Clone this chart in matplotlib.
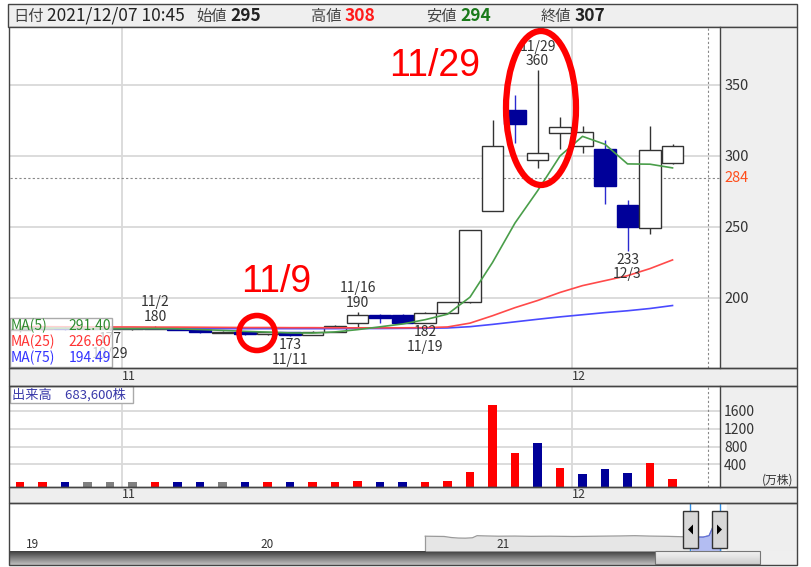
import matplotlib
matplotlib.use("Agg")
import matplotlib.pyplot as plt
from matplotlib.patches import Rectangle, Ellipse, Polygon
import numpy as np

plt.rcParams['font.family'] = ['Noto Sans CJK JP', 'DejaVu Sans']

# ---------------- data ----------------
dates = ['10/25', '10/26', '10/27', '10/28', '10/29', '11/1', '11/2', '11/4', '11/5', '11/8',
         '11/9', '11/10', '11/11', '11/12', '11/15', '11/16', '11/17', '11/18', '11/19', '11/22',
         '11/24', '11/25', '11/26', '11/29', '11/30', '12/1', '12/2', '12/3', '12/6', '12/7']
opens = [177, 178, 179, 178, 178, 178, 178, 179, 177.5, 175.5,
         176, 174.5, 176, 174, 176, 182, 188, 188, 182, 189,
         197, 261, 332, 297, 316, 306.5, 305, 265, 249, 295]
highs = [179, 179.5, 180, 179, 179, 179, 180, 179, 178, 176.5,
         176.5, 176, 176, 176.5, 180.5, 190, 188.5, 188.5, 190, 197,
         248, 325, 343, 360, 327, 321, 311, 269, 321, 308]
lows = [176, 177, 177, 177, 177, 177.5, 178, 177, 175, 175,
        174, 174, 173, 173.5, 176, 179, 182.5, 182, 182, 189,
        196.5, 261, 309, 291, 305, 302, 266, 233, 245, 294]
closes = [178, 179, 178, 178, 178, 178, 179, 177.5, 175.5, 175.5,
          174.5, 175.5, 174, 176, 180, 188, 185.5, 182.5, 189, 197,
          248, 307, 322, 302, 320, 317, 279, 250, 304, 307]
# volume in 万株, direction vs previous close
volumes = [15, 15, 15, 12, 12, 12, 15, 15, 15, 12,
           15, 15, 15, 15, 18, 40, 15, 15, 18, 40,
           238, 1734, 650, 875, 314, 180, 292, 202, 426, 68.36]
vol_dir = ['up', 'up', 'down', 'flat', 'flat', 'flat', 'up', 'down', 'down', 'flat',
           'down', 'up', 'down', 'up', 'up', 'up', 'down', 'down', 'up', 'up',
           'up', 'up', 'up', 'down', 'up', 'down', 'down', 'down', 'up', 'up']
ma5 = [178.5, 178.6, 178.5, 178.3, 178.2, 178.2, 178.3, 178.1, 177.6, 177.0,
       176.3, 175.8, 175.2, 175.1, 175.9, 177.5, 179.5, 181.5, 184.5, 188.4,
       200.4, 224.8, 252.6, 275.2, 299.8, 313.6, 308.0, 294.2, 294.0, 291.40]
ma25 = [179.6, 179.6, 179.5, 179.5, 179.4, 179.4, 179.3, 179.3, 179.2, 179.1,
        179.0, 179.0, 178.9, 178.9, 178.8, 178.8, 178.8, 178.8, 178.9, 179.4,
        182.1, 187.3, 193.0, 198.0, 203.7, 208.5, 212.0, 215.5, 220.5, 226.60]
ma75 = [178.4, 178.4, 178.4, 178.3, 178.3, 178.3, 178.3, 178.3, 178.3, 178.2,
        178.2, 178.2, 178.2, 178.2, 178.2, 178.3, 178.3, 178.4, 178.5, 178.7,
        179.6, 181.2, 183.0, 184.8, 186.5, 188.0, 189.5, 190.8, 192.4, 194.49]
price_ticks = [200, 250, 300, 350]
ref_price = 284
vol_ticks = [400, 800, 1200, 1600]
month_labels = ['11', '12']
month_index = [5, 25]
vol_total_label = '683,600株'
header = [('日付', '2021/12/07 10:45', '#222222'), ('始値', '295', '#222222'),
          ('高値', '308', '#ff1a1a'), ('安値', '294', '#1a7a1a'), ('終値', '307', '#222222')]
# labelled points: (index, kind, price text, date text)
marks = [(23, 'high', '360', '11/29'), (27, 'low', '233', '12/3'), (15, 'high', '190', '11/16'),
         (18, 'low', '182', '11/19'), (6, 'high', '180', '11/2'), (12, 'low', '173', '11/11'),
         (4, 'low', '177', '10/29')]
nav_years = ['19', '20', '21']
nav_t = [2020.67, 2020.71, 2020.75, 2020.78, 2020.81, 2020.84, 2020.87, 2020.89, 2020.93, 2020.98,
         2021.05, 2021.12, 2021.20, 2021.30, 2021.40, 2021.50, 2021.56, 2021.62, 2021.70, 2021.76,
         2021.80, 2021.85, 2021.875, 2021.89, 2021.90, 2021.91, 2021.925]
nav_p = [186, 185, 184, 176, 172, 171, 174, 190, 188, 186,
         187, 185, 186, 184, 186, 188, 190, 187, 185, 182,
         180, 179, 190, 250, 330, 320, 300]

# ---------------- layout helpers ----------------
W, H = 812, 567
fig = plt.figure(figsize=(W / 100, H / 100), dpi=100)
fig.patch.set_facecolor('white')


def px_axes(x0, y0, x1, y1, z=1):
    a = fig.add_axes([x0 / W, 1 - y1 / H, (x1 - x0) / W, (y1 - y0) / H])
    a.set_zorder(z)
    return a


bg = px_axes(0, 0, W, H, 0)
bg.set_xlim(0, W); bg.set_ylim(H, 0); bg.axis('off')
fg = px_axes(0, 0, W, H, 10)
fg.set_xlim(0, W); fg.set_ylim(H, 0); fg.axis('off'); fg.patch.set_alpha(0)

GRAY_BG = '#eeeeee'
BORDER = '#444444'
GRID = '#d9d9d9'
TXT = '#333333'

# header
bg.add_patch(Rectangle((8, 4), 789, 23, facecolor='#efefef', edgecolor=BORDER, lw=1))
hx = [(13, 47), (196, 230), (311, 345), (426, 460), (541, 575)]
for (lab, val, col), (x1, x2) in zip(header, hx):
    bg.text(x1, 16.5, lab, fontsize=11, color='#444444', va='center', ha='left')
    if lab == '日付':
        bg.text(x2, 16, val, fontsize=12.5, color='#222222', va='center', ha='left')
    else:
        bg.text(x2, 16, val, fontsize=12.5, color=col, va='center', ha='left', fontweight='bold')

# gray strips / right axis areas
bg.add_patch(Rectangle((720, 27), 77, 341, facecolor='#efefef', edgecolor='none'))
bg.add_patch(Rectangle((9, 368), 788, 18, facecolor=GRAY_BG, edgecolor='none'))
bg.add_patch(Rectangle((720, 386), 77, 101, facecolor='#efefef', edgecolor='none'))
bg.add_patch(Rectangle((9, 487), 788, 16, facecolor=GRAY_BG, edgecolor='none'))

n = len(dates)
xs = np.arange(n)
XL, XR = -0.444, 31.11
cur_x = 30.59

# ---------------- price panel ----------------
ax = px_axes(10, 28, 720, 368, 1)
ax.set_xlim(XL, XR)
ax.set_ylim(150.5, 389.9)
for s in ax.spines.values():
    s.set_visible(False)
ax.set_xticks([])
ax.yaxis.tick_right()
ax.set_yticks(price_ticks)
ax.set_yticklabels([str(t) for t in price_ticks])
ax.tick_params(axis='y', length=0, pad=3, labelsize=10.5, labelcolor=TXT)
for t in price_ticks:
    ax.axhline(t, color=GRID, lw=1.3, zorder=0)
for m in month_index:
    ax.axvline(m - 0.47, color=GRID, lw=1.3, zorder=0)
ax.axhline(ref_price, color='#888888', lw=0.8, ls=(0, (2, 2)), zorder=0.5)
ax.axvline(cur_x, color='#888888', lw=0.8, ls=(0, (2, 2)), zorder=0.5)
ax.text(1 + 4 / 710, ref_price, str(ref_price), transform=ax.get_yaxis_transform(),
        color='#ff4d1a', fontsize=10.5, va='center', ha='left', clip_on=False)

w = 0.94
for i in range(n):
    o, h, l, c = opens[i], highs[i], lows[i], closes[i]
    up = c >= o
    wick = '#333333' if up else '#2a2ad0'
    ax.plot([i, i], [l, h], color=wick, lw=1.0, zorder=2, solid_capstyle='butt')
    lo, hi = min(o, c), max(o, c)
    if hi - lo < 0.7:
        mid = (hi + lo) / 2
        lo, hi = mid - 0.35, mid + 0.35
    if up:
        ax.add_patch(Rectangle((i - w / 2, lo), w, hi - lo, facecolor='white',
                               edgecolor='#333333', lw=1.0, zorder=3))
    else:
        ax.add_patch(Rectangle((i - w / 2, lo), w, hi - lo, facecolor='#000099',
                               edgecolor='#000099', lw=1.0, zorder=3))

ax.plot(xs, ma75, color='#4a4aff', lw=1.2, zorder=4)
ax.plot(xs, ma25, color='#ff4a4a', lw=1.2, zorder=4)
ax.plot(xs, ma5, color='#4a9e4a', lw=1.2, zorder=4)

for idx, kind, ptxt, dtxt in marks:
    if kind == 'high':
        ax.annotate(dtxt + '\n' + ptxt, xy=(idx, highs[idx]), xytext=(0, 1.5),
                    textcoords='offset points', ha='center', va='bottom',
                    fontsize=10, color=TXT, linespacing=1.05, zorder=6)
    else:
        ax.annotate(ptxt + '\n' + dtxt, xy=(idx, lows[idx]), xytext=(0, -1.5),
                    textcoords='offset points', ha='center', va='top',
                    fontsize=10, color=TXT, linespacing=1.05, zorder=6)

# ---------------- volume panel ----------------
av = px_axes(10, 386, 720, 487, 1)
VB, VT = -105, 2160
av.set_xlim(XL, XR)
av.set_ylim(VB, VT)
for s in av.spines.values():
    s.set_visible(False)
av.set_xticks([])
av.yaxis.tick_right()
av.set_yticks(vol_ticks)
av.set_yticklabels([str(t) for t in vol_ticks])
av.tick_params(axis='y', length=0, pad=3, labelsize=10, labelcolor=TXT)
for t in vol_ticks:
    av.axhline(t, color=GRID, lw=1.3, zorder=0)
for m in month_index:
    av.axvline(m - 0.47, color=GRID, lw=1.3, zorder=0)
av.axvline(cur_x, color='#888888', lw=0.8, ls=(0, (2, 2)), zorder=0.5)
cmap = {'up': '#ff0000', 'down': '#000099', 'flat': '#808080'}
av.bar(xs, [v - VB for v in volumes], bottom=VB, width=0.38,
       color=[cmap[d] for d in vol_dir], zorder=2)
fg.text(762, 480, '(万株)', fontsize=8.5, color=TXT, ha='left', va='center')

# date strips
for m, lab in zip(month_index, month_labels):
    xp = 10 + (m - 0.15 - XL) / (XR - XL) * 710
    bg.text(xp, 377, lab, fontsize=9, color=TXT, ha='center', va='center')
    bg.text(xp, 495, lab, fontsize=9, color=TXT, ha='center', va='center')

# ---------------- navigator ----------------
an = px_axes(10, 503, 797, 551, 1)
Y0 = 2019 + (10 - 32) / 235.5
Y1 = 2019 + (797 - 32) / 235.5
an.set_xlim(Y0, Y1)
an.set_ylim(73.3, 439)
for s in an.spines.values():
    s.set_visible(False)
an.set_xticks([]); an.set_yticks([])
gx0 = 2019 + (727 - 32) / 235.5
an.axvspan(gx0, Y1, color='#eeeeee', zorder=0)
sel0 = 2019 + (690 - 32) / 235.5
sel1 = 2019 + (720 - 32) / 235.5
nt = np.array(nav_t); npv = np.array(nav_p)
an.fill_between(nt, 73.3, npv, color='#e6e6e6', zorder=1, lw=0)
an.plot(nt, npv, color='#9a9a9a', lw=0.9, zorder=2)
msk = nt >= sel0 - 0.005
an.fill_between(nt[msk], 73.3, npv[msk], color='#b3bdf2', zorder=2, lw=0)
an.plot(nt[msk], npv[msk], color='#6070e0', lw=0.9, zorder=3)
an.plot([nt[0], nt[0]], [73.3, npv[0]], color='#9a9a9a', lw=0.9, zorder=2)
for k, lab in enumerate(nav_years):
    an.text(2019 + k, 120, lab, fontsize=8.5, color=TXT, ha='center', va='center', zorder=3)
for xv in (sel0, sel1):
    an.axvline(xv, color='#2f8fe8', lw=1, zorder=4)

# scrollbar
grad = np.linspace(0.25, 0.75, 20).reshape(-1, 1)
bg.imshow(grad, extent=(10, 655, 565, 551), aspect='auto', cmap='gray', vmin=0, vmax=1, zorder=1)
grad2 = np.linspace(0.95, 0.80, 20).reshape(-1, 1)
bg.imshow(grad2, extent=(655, 760, 565, 551), aspect='auto', cmap='gray', vmin=0, vmax=1, zorder=1)
bg.add_patch(Rectangle((760, 551), 37, 14, facecolor='#efefef', edgecolor='none', zorder=1))
bg.set_xlim(0, W); bg.set_ylim(H, 0)
fg.add_patch(Rectangle((655, 551), 105, 13, facecolor='none', edgecolor='#777777', lw=0.8))

# handles
for hx0, tri in ((683, 'L'), (712, 'R')):
    fg.add_patch(Rectangle((hx0, 511), 15, 37, facecolor='#d8d8d8', edgecolor='#333333', lw=1))
    cx, cy = hx0 + 7.5, 529.5
    if tri == 'L':
        pts = [(cx + 2.5, cy - 5), (cx + 2.5, cy + 5), (cx - 2.5, cy)]
    else:
        pts = [(cx - 2.5, cy - 5), (cx - 2.5, cy + 5), (cx + 2.5, cy)]
    fg.add_patch(Polygon(pts, closed=True, facecolor='black', edgecolor='none'))

# ---------------- overlays ----------------
# MA legend box
fg.add_patch(Rectangle((10, 318), 102, 49, facecolor='white', alpha=0.75, edgecolor='none'))
fg.add_patch(Rectangle((10, 318), 102, 49, facecolor='none', edgecolor='#aaaaaa', lw=1))
for k, (lab, vals, col) in enumerate([('MA(5)', ma5, '#2e8b2e'), ('MA(25)', ma25, '#ff3333'),
                                       ('MA(75)', ma75, '#3333ff')]):
    yy = 326 + 16 * k
    fg.text(11, yy, lab, fontsize=10, color=col, ha='left', va='center')
    fg.text(111, yy, f'{vals[-1]:.2f}', fontsize=10, color=col, ha='right', va='center')

# volume label box
fg.add_patch(Rectangle((10, 386), 123, 17, facecolor='white', edgecolor='#aaaaaa', lw=1))
fg.text(12, 394.5, '出来高\u3000' + vol_total_label, fontsize=9.5, color='#3a3aaa', ha='left', va='center')

# red hand annotations
fg.add_patch(Ellipse((541, 108), 70, 154, facecolor='none', edgecolor='#ff0000', lw=4.5))
fg.add_patch(Ellipse((257, 333), 36, 35, facecolor='none', edgecolor='#ff0000', lw=4))
fg.text(435, 66, dates[23], fontsize=27, color='#ff0000', ha='center', va='center',
        family=['Liberation Sans', 'DejaVu Sans'])
fg.text(276, 282, dates[10], fontsize=27, color='#ff0000', ha='center', va='center',
        family=['Liberation Sans', 'DejaVu Sans'])

# borders
for (x0, y0, x1, y1) in [(9, 27, 797, 368), (9, 368, 797, 386), (9, 386, 797, 487),
                         (9, 487, 797, 503), (9, 503, 797, 565)]:
    fg.add_patch(Rectangle((x0, y0), x1 - x0, y1 - y0, facecolor='none', edgecolor=BORDER, lw=1))
fg.plot([720, 720], [27, 368], color=BORDER, lw=1)
fg.plot([720, 720], [386, 487], color=BORDER, lw=1)

fig.savefig('out.png', dpi=100)
